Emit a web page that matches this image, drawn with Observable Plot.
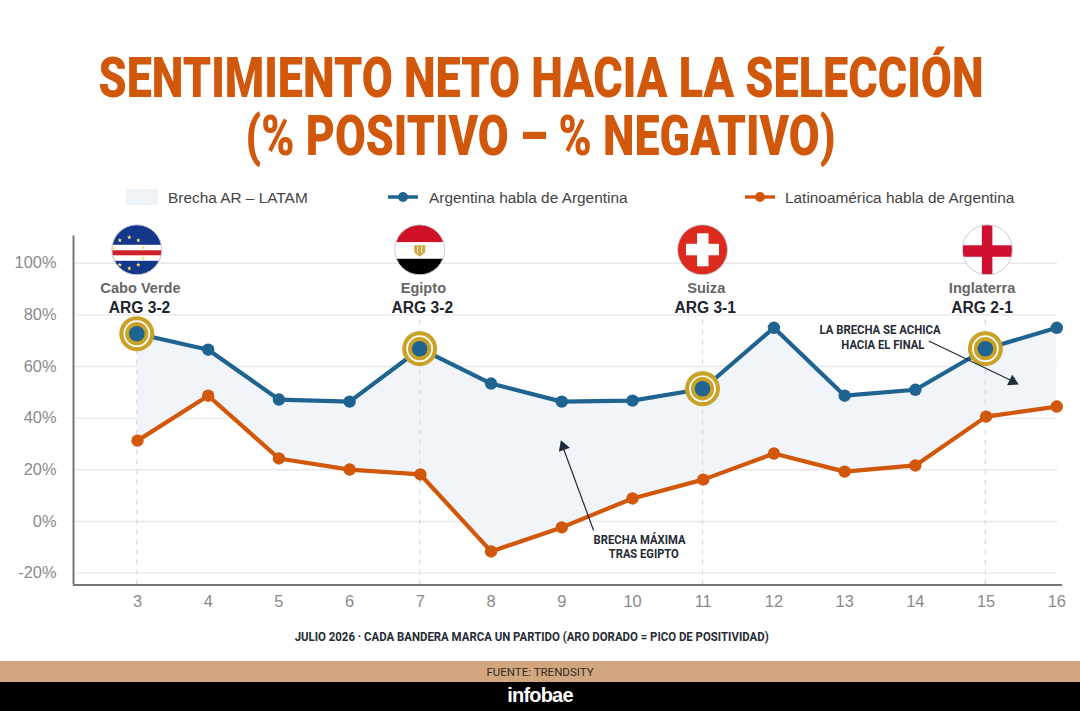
<!DOCTYPE html>
<html><head><meta charset="utf-8">
<script src="https://cdn.jsdelivr.net/npm/d3@7"></script>
<script src="https://cdn.jsdelivr.net/npm/@observablehq/plot@0.6"></script>
<style>
html,body{margin:0;padding:0;background:#fff;}
#page{position:relative;width:1080px;height:711px;overflow:hidden;font-family:"Liberation Sans",Arial,sans-serif;}
.fit{position:absolute;white-space:nowrap;text-align:center;}
.fit span{display:inline-block;transform-origin:center;}
#t1,#t2{left:0;width:1081px;color:#d1570b;font:900 55px/60px Roboto,sans-serif;}
#t1{top:48px}
#t2{top:106px}
#legend{position:absolute;left:0;top:186px;width:1080px;height:24px;font-size:15.4px;color:#444;}
#legend>*{position:absolute;}
#chart{position:absolute;left:0;top:209px;}
#caption{left:0;width:1064px;top:629px;font:bold 12.5px/16px Roboto,sans-serif;color:#262c36;}
#src{position:absolute;left:0;top:661px;width:1080px;height:21px;background:#d2a67f;text-align:center;font:11.5px/22px Roboto,sans-serif;color:#33291f;}
#brand{position:absolute;left:0;top:682px;width:1080px;height:29px;background:#000;text-align:center;font:bold 20px/26px "Liberation Sans",sans-serif;letter-spacing:-.8px;color:#fff;}
</style></head><body>
<div id="page">
<div id="t1" class="fit"><span></span></div>
<div id="t2" class="fit"><span></span></div>
<div id="legend"></div>
<div id="chart"></div>
<div id="caption" class="fit"><span></span></div>
<div id="src"></div>
<div id="brand"></div>
</div>
<script>
const titleLines = ["SENTIMIENTO NETO HACIA LA SELECCIÓN", "(% POSITIVO – % NEGATIVO)"];
const legendGap = "Brecha AR – LATAM";
const legendAr = "Argentina habla de Argentina";
const legendLatam = "Latinoamérica habla de Argentina";
const captionText = "JULIO 2026 · CADA BANDERA MARCA UN PARTIDO (ARO DORADO = PICO DE POSITIVIDAD)";
const sourceText = "FUENTE: TRENDSITY";
const brandText = "infobae";

const days = [3,4,5,6,7,8,9,10,11,12,13,14,15,16];
const argentina = [72.7,66.5,47.2,46.4,66.9,53.4,46.4,46.8,51.4,75,48.7,51,66.9,75];
const latam = [31.3,48.7,24.4,20.1,18.2,-11.6,-2.3,8.9,16.2,26.3,19.3,21.7,40.6,44.5];
const yTicks = [-20,0,20,40,60,80,100];

const matchDays = [3,7,11,15];
const rivals = ["Cabo Verde","Egipto","Suiza","Inglaterra"];
const scores = ["ARG 3-2","ARG 3-2","ARG 3-1","ARG 2-1"];
const peaks = [72.7,66.9,51.4,66.9];

const noteLines = ["BRECHA MÁXIMA","TRAS EGIPTO","LA BRECHA SE ACHICA","HACIA EL FINAL"];
const noteX = [10.1,10.16,13.5,13.54];
const noteY = [-7,-12.7,74.1,68.3];
const noteWidths = [92,70,121,83];

const BLUE = "#1f6491", ORANGE = "#d1570b", GOLD = "#c9a227", INK = "#1d2b3a";

const svgUri = s => "data:image/svg+xml;utf8," + encodeURIComponent(`<svg xmlns="http://www.w3.org/2000/svg" viewBox="0 0 100 100">${s}</svg>`);
const star = (x,y) => `<polygon transform="translate(${x} ${y}) scale(4.6)" fill="#f3e27a" points="0,-1 .29,-.31 .95,-.31 .47,.12 .59,.81 0,.38 -.59,.81 -.47,.12 -.95,-.31 -.29,-.31"/>`;
const flags = [
  svgUri(`<rect width="100" height="100" fill="#14378a"/><rect y="40" width="100" height="32" fill="#fff"/><rect y="51" width="100" height="10" fill="#cf2027"/>` +
    [[16,31],[35,25],[53,31],[3,47],[63,46],[3,67],[63,67],[16,80],[35,87],[53,80]].map(p=>star(p[0],p[1])).join("")),
  svgUri(`<rect width="100" height="35" fill="#ce1126"/><rect y="35" width="100" height="33" fill="#fff"/><rect y="68" width="100" height="32" fill="#000"/><path d="M39 41h22v14l-11 9l-11-9z" fill="#cda93f"/><path d="M46 43v14M54 43v14" stroke="#fff" stroke-width="1.6"/>`),
  svgUri(`<rect width="100" height="100" fill="#dc2a1e"/><rect x="39" y="17" width="23" height="66" fill="#fff"/><rect x="17" y="38" width="66" height="23" fill="#fff"/>`),
  svgUri(`<rect width="100" height="100" fill="#fff"/><rect x="39" width="21" height="100" fill="#ce1030"/><rect y="41" width="100" height="23" fill="#ce1030"/>`)
];

const rows = days.map((d,i)=>({d, ar:argentina[i], la:latam[i]}));
const matches = matchDays.map((d,i)=>({d, rival:rivals[i], score:scores[i], peak:peaks[i], flag:flags[i]}));
const notes = noteLines.map((t,i)=>({t, x:noteX[i], y:noteY[i], w:noteWidths[i]}));
const early = matches.filter(m=>m.d<15), late = matches.filter(m=>m.d===15);

const chart = Plot.plot({
  width:1080, height:400,
  marginTop:0, marginBottom:0, marginLeft:73, marginRight:23,
  style:{background:"transparent", fontFamily:'"Liberation Sans",Arial,sans-serif'},
  x:{domain:[2.095,16.01], axis:null},
  y:{domain:[-24.6,120.8], range:[375.5,0], axis:null},
  marks:[
    Plot.ruleY(yTicks,{stroke:"#e6e8ee",strokeWidth:1.4}),
    Plot.areaY(rows,{x:"d",y1:"la",y2:"ar",fill:"#f1f5f9",curve:"linear"}),
    Plot.ruleX(matches,{x:"d",y1:-24.6,y2:79,stroke:"#d3d9e6",strokeWidth:1.2,strokeDasharray:"5 5",dx:-0.7}),
    Plot.ruleX([2.095],{y1:-24.6,y2:110.5,stroke:"#777",strokeWidth:2}),
    Plot.ruleY([-24.6],{x1:2.095,x2:16.08,stroke:"#777",strokeWidth:2}),
    Plot.axisY({ticks:yTicks,tickSize:0,tickPadding:17,tickFormat:d=>d+"%",fontSize:16.4,color:"#8a8a8a",fill:"#8a8a8a",label:null,anchor:"left"}),
    Plot.text(days,{x:d=>d,y:-24.6,text:d=>String(d),dy:17,fontSize:16.4,fill:"#8a8a8a",lineAnchor:"middle"}),
    Plot.line(rows,{x:"d",y:"la",stroke:ORANGE,strokeWidth:4.2}),
    Plot.line(rows,{x:"d",y:"ar",stroke:BLUE,strokeWidth:4.2}),
    Plot.dot(rows,{x:"d",y:"la",r:6.2,fill:ORANGE}),
    Plot.dot(rows,{x:"d",y:"ar",r:6.2,fill:BLUE}),
    Plot.dot(matches,{x:"d",y:"peak",r:17.5,fill:GOLD,dx:-0.7}),
    Plot.dot(matches,{x:"d",y:"peak",r:12.5,stroke:"#fff",strokeWidth:1.7,fill:"none",dx:-0.7}),
    Plot.dot(matches,{x:"d",y:"peak",r:7.8,fill:BLUE,dx:-0.7}),
    Plot.image(early,{x:"d",y:105.2,src:"flag",r:25,width:50,height:50,dx:-0.7}),
    Plot.image(late,{x:"d",y:105.2,src:"flag",r:25,width:50,height:50,dx:1.3}),
    Plot.dot(early,{x:"d",y:105.2,r:25,stroke:"#c9ccd4",strokeWidth:1,fill:"none",dx:-0.7}),
    Plot.dot(late,{x:"d",y:105.2,r:25,stroke:"#c9ccd4",strokeWidth:1,fill:"none",dx:1.3}),
    Plot.text(early,{x:"d",y:105.2,text:"rival",dy:39,fontSize:14.6,fontWeight:"bold",fill:"#666",dx:3}),
    Plot.text(late,{x:"d",y:105.2,text:"rival",dy:39,fontSize:14.6,fontWeight:"bold",fill:"#666",dx:-4}),
    Plot.text(early,{x:"d",y:105.2,text:"score",dy:58,fontSize:15.6,fontWeight:"bold",fill:"#20242c",dx:2}),
    Plot.text(late,{x:"d",y:105.2,text:"score",dy:58,fontSize:15.6,fontWeight:"bold",fill:"#20242c",dx:-4}),
    Plot.link([{x1:9.45,y1:-3.5,x2:9.0,y2:30}],{x1:"x1",y1:"y1",x2:"x2",y2:"y2",stroke:INK,strokeWidth:1.2}),
    Plot.dot([{x:9.02,y:29}],{x:"x",y:"y",symbol:"triangle2",r:5.6,fill:INK,rotate:-20}),
    Plot.link([{x1:14.19,y1:69.9,x2:15.4,y2:54}],{x1:"x1",y1:"y1",x2:"x2",y2:"y2",stroke:INK,strokeWidth:1.2}),
    Plot.dot([{x:15.376,y:54.2}],{x:"x",y:"y",symbol:"triangle2",r:5.6,fill:INK,rotate:116}),
    Plot.text(notes,{x:"x",y:"y",text:"t",textAnchor:"middle",lineAnchor:"middle",fontSize:12.5,fontWeight:"bold",fontFamily:"Roboto,sans-serif",fill:"#262c36",className:"note"})
  ]
});
document.getElementById("chart").appendChild(chart);

d3.select(chart).selectAll("g.note text").each(function(){
  const n = notes.find(k=>k.t===this.textContent);
  if(n){ this.setAttribute("textLength",n.w); this.setAttribute("lengthAdjust","spacingAndGlyphs"); }
});

function fit(id,text,target){
  const s=document.querySelector("#"+id+" span");
  s.textContent=text;
  s.style.transform=`scaleX(${target/s.getBoundingClientRect().width})`;
}
fit("t1",titleLines[0],885);
fit("t2",titleLines[1],590);
fit("caption",captionText,474);
document.getElementById("src").textContent = sourceText;
document.getElementById("brand").textContent = brandText;

const lineSwatch = (x,c)=>`<svg style="left:${x}px;top:0" width="32" height="24"><line x1="1" x2="31" y1="11" y2="11" stroke="${c}" stroke-width="3.5"/><circle cx="16" cy="11" r="5" fill="${c}"/></svg>`;
document.getElementById("legend").innerHTML =
  `<div style="left:126px;top:3px;width:32px;height:16px;background:#eef3f8;"></div>`+
  `<span style="left:168px;top:3px">${legendGap}</span>`+
  lineSwatch(387,BLUE)+`<span style="left:429px;top:3px">${legendAr}</span>`+
  lineSwatch(744,ORANGE)+`<span style="left:785px;top:3px">${legendLatam}</span>`;
</script>
</body></html>
